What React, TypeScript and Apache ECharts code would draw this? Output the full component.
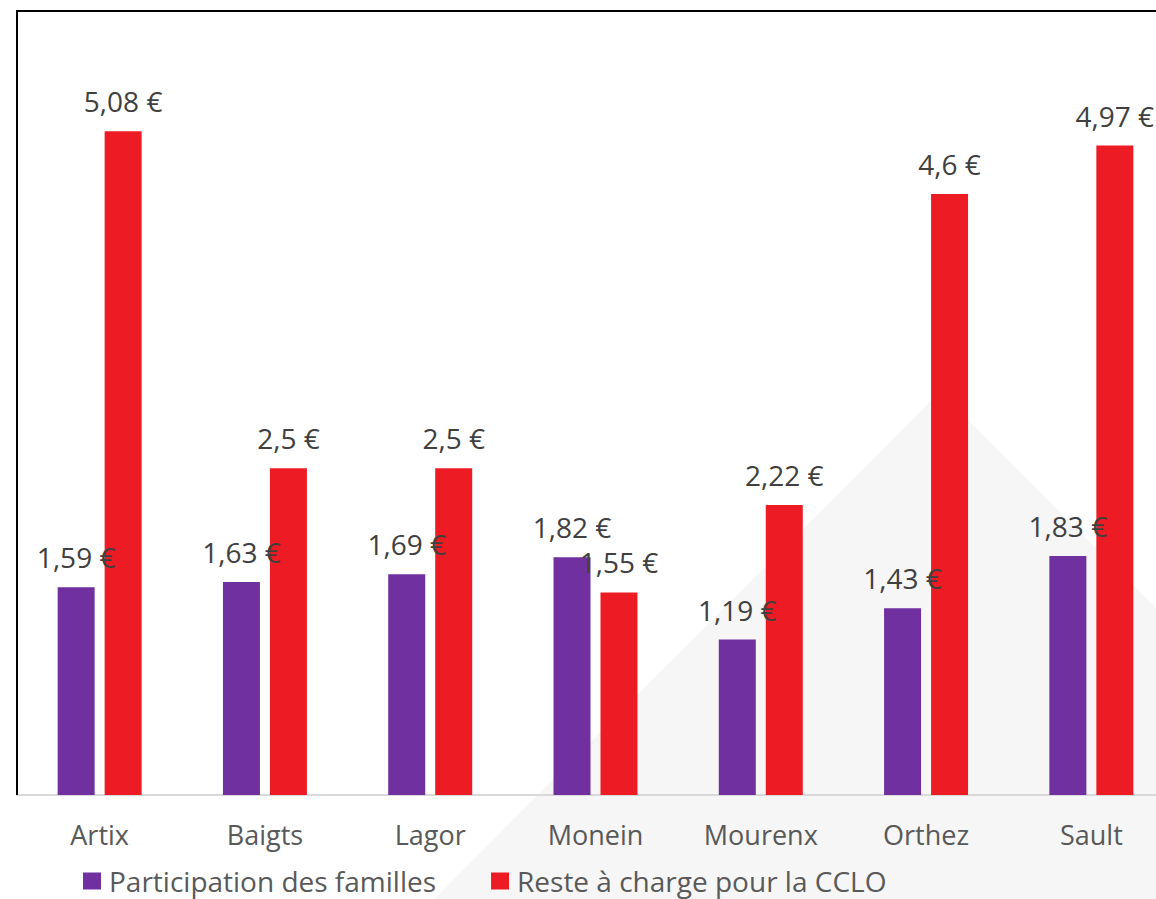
import React, { useEffect, useRef } from "react";
import * as echarts from "echarts";

const categories = ["Artix", "Baigts", "Lagor", "Monein", "Mourenx", "Orthez", "Sault"];
const participationFamilles = [1.59, 1.63, 1.69, 1.82, 1.19, 1.43, 1.83];
const resteCharge = [5.08, 2.5, 2.5, 1.55, 2.22, 4.6, 4.97];
const seriesNames = ["Participation des familles", "Reste à charge pour la CCLO"];

const FONT = "'Open Sans', 'Noto Sans', sans-serif";
const fmt = (p: any) => String(p.value).replace(".", ",") + " €";

export default function App() {
  const ref = useRef<HTMLDivElement>(null);
  useEffect(() => {
    if (!ref.current) return;
    const chart = echarts.init(ref.current, null, { renderer: "svg" });
    const labelStyle = {
      show: true,
      position: "top" as const,
      distance: 16,
      formatter: fmt,
      color: "#404040",
      fontSize: 28,
      fontFamily: FONT,
    };
    chart.setOption({
      animation: false,
      backgroundColor: "#ffffff",
      graphic: [
        {
          type: "polygon",
          z: -10,
          silent: true,
          shape: { points: [[434, 899], [940, 392], [1447, 899]] },
          style: { fill: "#f6f6f6" },
        },
        {
          type: "polyline",
          z: 100,
          silent: true,
          shape: { points: [[17, 795], [17, 11], [1200, 11]] },
          style: { stroke: "#000000", lineWidth: 2, fill: null },
        },
      ],
      grid: { left: 17, top: 11, width: 1157, height: 784, containLabel: false },
      legend: {
        left: 83,
        top: 866,
        padding: 0,
        itemWidth: 18,
        itemHeight: 17,
        itemGap: 55,
        icon: "rect",
        textStyle: { color: "#595959", fontSize: 28, lineHeight: 30, fontFamily: FONT, padding: [0, 0, 0, 3] },
        data: seriesNames,
      },
      xAxis: {
        type: "category",
        data: categories,
        axisLine: { show: true, lineStyle: { color: "#d9d9d9", width: 2 } },
        axisTick: { show: false },
        axisLabel: { color: "#595959", fontSize: 27, fontFamily: FONT, margin: 26 },
      },
      yAxis: {
        type: "value",
        min: 0,
        max: 6,
        interval: 1,
        axisLine: { show: false },
        axisTick: { show: false },
        axisLabel: { show: false },
        splitLine: { show: false },
      },
      series: [
        {
          name: seriesNames[0],
          type: "bar",
          data: participationFamilles,
          barWidth: 37,
          barGap: "27%",
          itemStyle: { color: "#7030A0" },
          label: labelStyle,
        },
        {
          name: seriesNames[1],
          type: "bar",
          data: resteCharge,
          barWidth: 37,
          barGap: "27%",
          itemStyle: { color: "#ED1C24" },
          label: labelStyle,
        },
      ],
    });
    return () => chart.dispose();
  }, []);
  return (
    <div style={{ position: "fixed", left: 0, top: 0, width: 1156, height: 899, overflow: "hidden", background: "#fff" }}>
      <div ref={ref} style={{ width: 1200, height: 899 }} />
    </div>
  );
}
